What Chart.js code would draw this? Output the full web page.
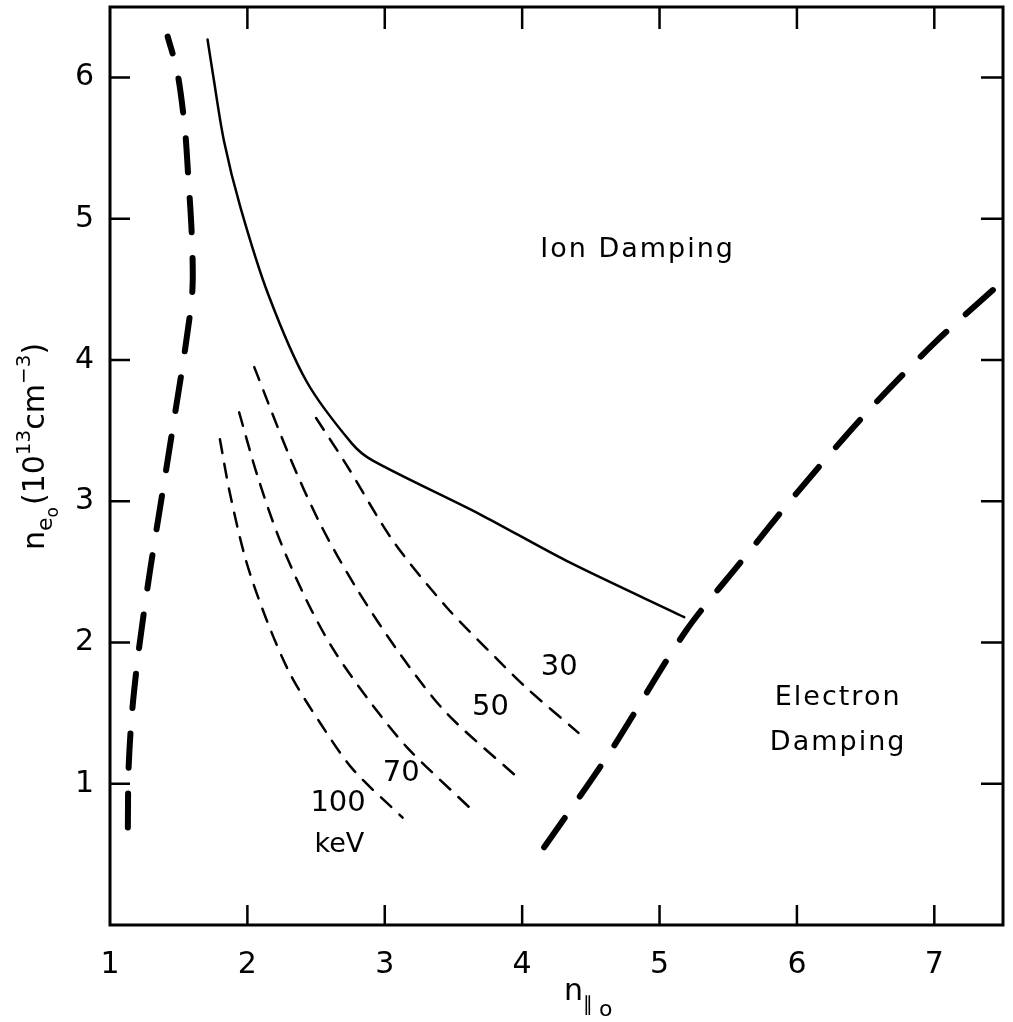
<!DOCTYPE html>
<html>
<head>
<meta charset="utf-8">
<script src="https://cdn.jsdelivr.net/npm/chart.js@4.4.0/dist/chart.umd.min.js"></script>
<style>
  html, body { margin: 0; padding: 0; background: #fff; }
  #wrap { width: 1013px; height: 1022px; }
</style>
</head>
<body>
<div id="wrap"><canvas id="chart"></canvas></div>
<script>
// tick labels
const xTicks = [1, 2, 3, 4, 5, 6, 7];
const yTicks = [1, 2, 3, 4, 5, 6];

// heavy dashed boundary on the left
const leftX = [1.13, 1.135, 1.16, 1.21, 1.29, 1.38, 1.47, 1.55, 1.60, 1.595, 1.57, 1.545, 1.49, 1.42];
const leftY = [0.69, 1.1, 1.5, 1.95, 2.5, 3.05, 3.6, 4.1, 4.5, 4.89, 5.29, 5.64, 6.04, 6.29];

// heavy dashed boundary on the right
const rightX = [4.16, 4.63, 5.19, 5.6, 6.0, 6.5, 7.0, 7.5];
const rightY = [0.55, 1.21, 2.08, 2.58, 3.06, 3.62, 4.12, 4.56];

// solid ion / electron damping border
const solidX = [1.71, 1.75, 1.83, 1.95, 2.15, 2.43, 2.76, 2.91, 3.69, 4.32, 5.18];
const solidY = [6.27, 6.02, 5.55, 5.08, 4.47, 3.85, 3.41, 3.29, 2.91, 2.58, 2.18];

// thin dashed curves, one per energy (keV)
const e30X = [2.50, 2.72, 3.06, 3.45, 3.81, 4.03, 4.41];
const e30Y = [3.59, 3.26, 2.72, 2.25, 1.89, 1.68, 1.36];
const e50X = [2.05, 2.31, 2.53, 2.79, 3.11, 3.45, 3.96];
const e50Y = [3.95, 3.31, 2.84, 2.39, 1.92, 1.50, 1.05];
const e70X = [1.94, 2.07, 2.23, 2.43, 2.62, 2.87, 3.16, 3.64];
const e70Y = [3.63, 3.19, 2.74, 2.30, 1.96, 1.61, 1.26, 0.81];
const e100X = [1.80, 1.87, 1.99, 2.14, 2.31, 2.53, 2.77, 3.13];
const e100Y = [3.44, 3.07, 2.58, 2.16, 1.78, 1.43, 1.10, 0.76];

const FONT = '"DejaVu Sans", sans-serif';

function pts(xs, ys) {
  return xs.map((x, i) => ({ x: x, y: ys[i] }));
}

function curve(xs, ys, width, dash) {
  return {
    data: pts(xs, ys),
    showLine: true,
    borderColor: '#000',
    borderWidth: width,
    borderDash: dash,
    borderCapStyle: 'round',
    pointRadius: 0,
    tension: 0.3,
    fill: false
  };
}

// frame, inward ticks and all the hand lettering
const decor = {
  id: 'decor',
  afterDatasetsDraw(chart) {
    const { ctx, chartArea: a, scales: { x, y } } = chart;
    ctx.save();
    ctx.strokeStyle = '#000';
    ctx.lineWidth = 3;
    ctx.strokeRect(a.left, a.top, a.right - a.left, a.bottom - a.top);

    ctx.lineWidth = 2.5;
    ctx.beginPath();
    xTicks.forEach(v => {
      if (v === 1) return;
      const px = x.getPixelForValue(v);
      ctx.moveTo(px, a.bottom); ctx.lineTo(px, a.bottom - 20);
      ctx.moveTo(px, a.top); ctx.lineTo(px, a.top + 22);
    });
    yTicks.forEach(v => {
      const py = y.getPixelForValue(v);
      ctx.moveTo(a.left, py); ctx.lineTo(a.left + 20, py);
      ctx.moveTo(a.right, py); ctx.lineTo(a.right - 22, py);
    });
    ctx.stroke();

    ctx.fillStyle = '#000';
    ctx.textAlign = 'center';
    ctx.textBaseline = 'middle';
    const put = (t, vx, vy, size) => {
      ctx.font = size + 'px ' + FONT;
      ctx.fillText(t, x.getPixelForValue(vx), y.getPixelForValue(vy));
    };
    ctx.letterSpacing = '2px';
    put('Ion Damping', 4.84, 4.78, 27);
    put('Electron', 6.3, 1.61, 27);
    put('Damping', 6.3, 1.29, 27);
    ctx.letterSpacing = '0px';
    put('30', 4.27, 1.82, 29);
    put('50', 3.77, 1.54, 29);
    put('70', 3.12, 1.07, 29);
    put('100', 2.66, 0.86, 29);
    put('keV', 2.67, 0.57, 27);

    // x title: n with subscript "ll o"
    ctx.textAlign = 'left';
    ctx.textBaseline = 'alphabetic';
    ctx.font = '30px ' + FONT;
    ctx.fillText('n', 564, 1000);
    ctx.font = '20px ' + FONT;
    ctx.fillText('\u2225', 583, 1011);
    ctx.font = '22px ' + FONT;
    ctx.fillText('o', 599, 1016);

    // y title, rotated
    ctx.translate(44, 550);
    ctx.rotate(-Math.PI / 2);
    let cx = 0;
    const seg = (t, size, dy) => {
      ctx.font = size + 'px ' + FONT;
      ctx.fillText(t, cx, dy);
      cx += ctx.measureText(t).width;
    };
    seg('n', 30, 0);
    seg('e', 22, 8);
    seg('o', 17, 14);
    cx += 2;
    seg('(10', 30, 0);
    seg('13', 20, -14);
    seg('cm', 30, 0);
    seg('\u22123', 20, -14);
    seg(')', 30, 0);
    ctx.restore();
  }
};

new Chart(document.getElementById('chart'), {
  type: 'scatter',
  data: {
    datasets: [
      curve(leftX, leftY, 6, [34, 26]),
      curve(rightX, rightY, 6, [36, 26]),
      curve(solidX, solidY, 2.5, []),
      curve(e30X, e30Y, 2.5, [14, 11]),
      curve(e50X, e50Y, 2.5, [14, 11]),
      curve(e70X, e70Y, 2.5, [14, 11]),
      curve(e100X, e100Y, 2.5, [14, 11])
    ]
  },
  options: {
    responsive: true,
    maintainAspectRatio: false,
    animation: false,
    layout: { padding: { top: 7, right: 10, left: 0, bottom: 0 } },
    plugins: { legend: { display: false }, tooltip: { enabled: false } },
    scales: {
      x: {
        type: 'linear', min: 1, max: 7.5,
        afterFit: s => { s.height = 97; s.paddingLeft = 0; s.paddingRight = 0; },
        afterBuildTicks: s => { s.ticks = xTicks.map(v => ({ value: v })); },
        grid: { display: false },
        border: { display: false },
        ticks: { color: '#000', padding: 14, font: { family: FONT, size: 30 } }
      },
      y: {
        type: 'linear', min: 0, max: 6.5,
        afterFit: s => { s.width = 110; s.paddingTop = 0; s.paddingBottom = 0; },
        afterBuildTicks: s => { s.ticks = yTicks.map(v => ({ value: v })); },
        grid: { display: false },
        border: { display: false },
        ticks: { color: '#000', padding: 8, font: { family: FONT, size: 30 } }
      }
    }
  },
  plugins: [decor]
});
</script>
</body>
</html>
